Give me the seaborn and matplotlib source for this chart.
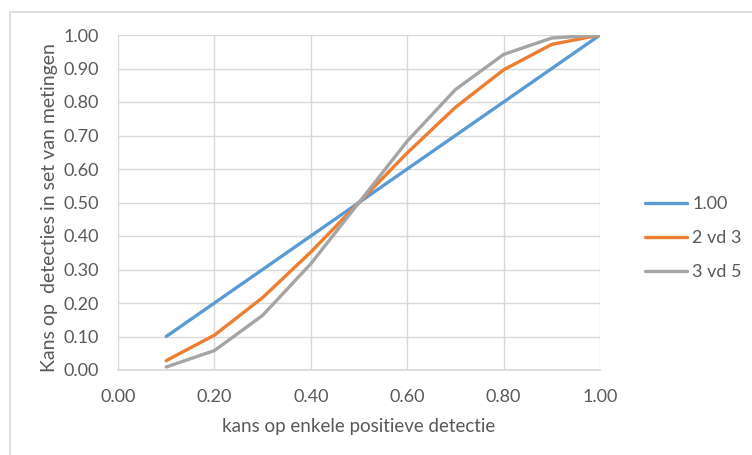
import matplotlib
matplotlib.use("Agg")
import matplotlib.pyplot as plt
import seaborn as sns
import pandas as pd
from matplotlib.patches import Rectangle

p = [0.1, 0.2, 0.3, 0.4, 0.5, 0.6, 0.7, 0.8, 0.9, 1.0]
s_single = [0.10, 0.20, 0.30, 0.40, 0.50, 0.60, 0.70, 0.80, 0.90, 1.00]
s_2vd3 = [0.028, 0.104, 0.216, 0.352, 0.50, 0.648, 0.784, 0.896, 0.972, 1.00]
s_3vd5 = [0.009, 0.058, 0.163, 0.317, 0.50, 0.683, 0.837, 0.942, 0.991, 1.00]
series_names = ["1.00", "2 vd 3", "3 vd 5"]
colors = ["#5B9BD5", "#ED7D31", "#A5A5A5"]

df = pd.concat([
    pd.DataFrame({"x": p, "y": v, "serie": n})
    for n, v in zip(series_names, [s_single, s_2vd3, s_3vd5])
])

sns.set_theme(style="white")
plt.rcParams['font.family'] = ['Lato', 'DejaVu Sans']

fig = plt.figure(figsize=(7.52, 4.55), dpi=100)
fig.patches.append(Rectangle((10/752, -0.1), 1.2, (455-12)/455 + 0.1,
                             transform=fig.transFigure, fill=False,
                             edgecolor="#D9D9D9", linewidth=1.2))
ax = fig.add_axes([118/752, 85/455, 482/752, 335/455])

sns.lineplot(data=df, x="x", y="y", hue="serie", palette=colors,
             linewidth=2.4, ax=ax, legend=True)

ax.set_xlim(0, 1)
ax.set_ylim(0, 1)
ax.set_xticks([0, 0.2, 0.4, 0.6, 0.8, 1.0])
ax.set_yticks([i / 10 for i in range(11)])
ax.set_xticklabels([f"{t:.2f}" for t in ax.get_xticks()])
ax.set_yticklabels([f"{t:.2f}" for t in ax.get_yticks()])
ax.grid(True, color="#D9D9D9", linewidth=1)
ax.set_axisbelow(True)
for s in ax.spines.values():
    s.set_visible(False)
ax.spines["bottom"].set_visible(True)
ax.spines["bottom"].set_color("#D9D9D9")
ax.tick_params(axis="both", colors="#595959", labelsize=13, length=0)
ax.tick_params(axis="x", pad=14)
ax.tick_params(axis="y", pad=14)
ax.set_xlabel("kans op enkele positieve detectie", color="#595959", fontsize=13.5, labelpad=9)
ax.set_ylabel("Kans op  detecties in set van metingen", color="#595959", fontsize=14)
ax.yaxis.set_label_coords(-0.124, 0.485)

leg = ax.legend(loc="center left", bbox_to_anchor=(1.06, 0.394), frameon=False,
                fontsize=13, handlelength=2.3, handletextpad=0.3, labelspacing=1.0)
for t in leg.get_texts():
    t.set_color("#595959")
for line in leg.get_lines():
    line.set_linewidth(2.4)

fig.savefig("out.png", dpi=100)
